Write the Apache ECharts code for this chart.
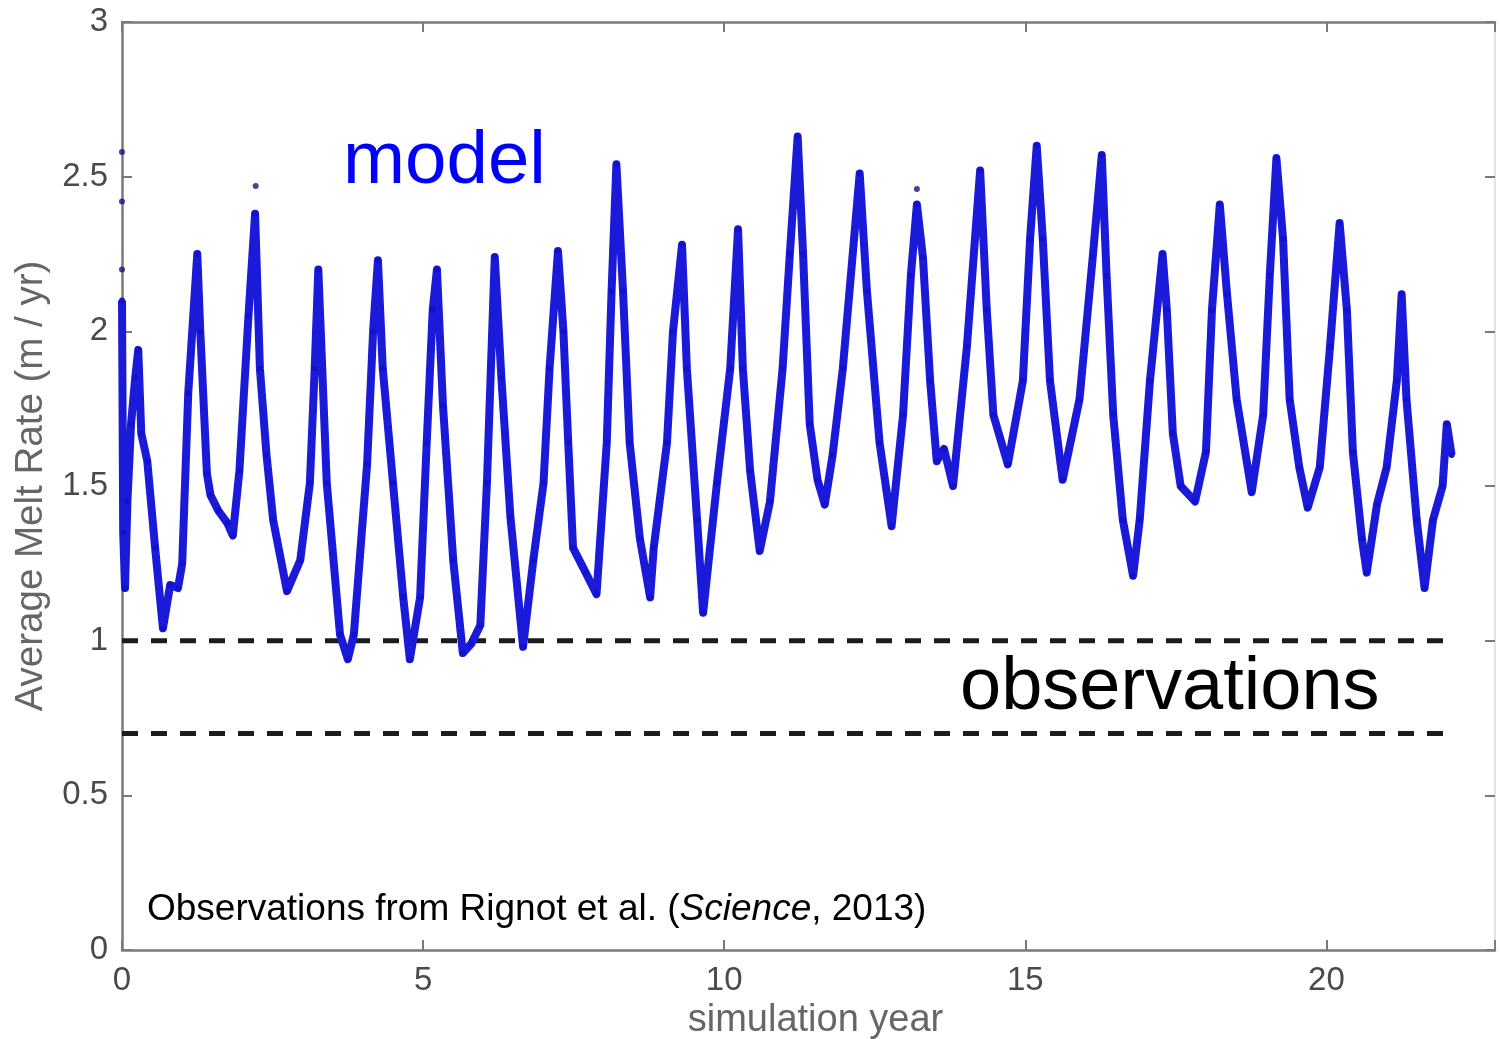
<!DOCTYPE html>
<html><head><meta charset="utf-8">
<script src="https://cdn.jsdelivr.net/npm/echarts@6/dist/echarts.min.js"></script>
<style>html,body{margin:0;padding:0;background:#fff}#c{width:1500px;height:1039px}</style>
</head><body><div id="c"></div>
<script>
// simulation year (x) and average melt rate (m/yr)
const years = [0.00,0.02,0.05,0.09,0.15,0.22,0.27,0.32,0.42,0.55,0.68,0.80,0.93,1.00,1.10,1.25,1.30,1.41,1.47,1.60,1.75,1.84,1.95,2.10,2.21,2.29,2.40,2.51,2.74,2.96,3.12,3.20,3.26,3.40,3.62,3.75,3.85,4.07,4.17,4.25,4.33,4.50,4.67,4.78,4.95,5.06,5.16,5.23,5.33,5.50,5.66,5.80,5.95,6.06,6.19,6.30,6.45,6.66,6.83,7.00,7.10,7.24,7.33,7.41,7.49,7.70,7.88,8.05,8.13,8.21,8.32,8.43,8.60,8.77,8.83,9.05,9.15,9.30,9.38,9.55,9.65,9.88,10.10,10.23,10.31,10.43,10.59,10.76,10.97,11.09,11.22,11.31,11.42,11.55,11.67,11.80,11.97,12.25,12.37,12.58,12.78,12.97,13.10,13.20,13.30,13.42,13.53,13.65,13.80,14.03,14.25,14.36,14.47,14.71,14.96,15.08,15.19,15.29,15.41,15.62,15.90,16.12,16.27,16.35,16.46,16.62,16.79,16.90,17.07,17.28,17.35,17.45,17.58,17.82,18.00,18.10,18.23,18.35,18.51,18.76,18.95,19.06,19.17,19.28,19.39,19.55,19.69,19.89,20.06,20.22,20.34,20.44,20.59,20.67,20.84,21.00,21.17,21.25,21.33,21.50,21.63,21.77,21.93,22.00,22.08];
const meltRate = [2.10,1.35,1.17,1.45,1.70,1.85,1.94,1.67,1.58,1.30,1.04,1.18,1.17,1.25,1.80,2.25,2.00,1.54,1.47,1.42,1.38,1.34,1.55,2.05,2.38,1.88,1.60,1.39,1.16,1.26,1.51,1.88,2.20,1.51,1.02,0.94,1.02,1.57,2.00,2.23,1.88,1.51,1.14,0.94,1.14,1.64,2.07,2.20,1.76,1.26,0.96,0.99,1.05,1.51,2.24,1.85,1.40,0.98,1.26,1.51,1.88,2.26,2.00,1.64,1.30,1.22,1.15,1.64,2.13,2.54,2.13,1.64,1.33,1.14,1.30,1.64,2.00,2.28,1.88,1.39,1.09,1.51,1.88,2.33,1.88,1.55,1.29,1.45,1.88,2.25,2.63,2.25,1.70,1.52,1.44,1.60,1.88,2.51,2.13,1.64,1.37,1.73,2.18,2.41,2.24,1.84,1.58,1.62,1.50,1.95,2.52,2.07,1.73,1.57,1.84,2.30,2.60,2.30,1.84,1.52,1.78,2.24,2.57,2.18,1.73,1.39,1.21,1.39,1.84,2.25,2.07,1.67,1.50,1.45,1.61,2.07,2.41,2.12,1.78,1.48,1.73,2.18,2.56,2.30,1.78,1.56,1.43,1.56,1.95,2.35,2.07,1.61,1.33,1.22,1.44,1.56,1.84,2.12,1.78,1.39,1.17,1.39,1.50,1.70,1.60];
// isolated points above the trace
const strayYears = [0.00,0.00,0.00,2.22,13.20];
const strayRates = [2.58,2.42,2.20,2.47,2.46];
// observation bounds (Rignot et al. 2013)
const obsLevels = [1.0, 0.7];
const obsStart = 0;
const obsEnd = 22.08;
const xTickValues = [0,5,10,15,20];
const yTickValues = [0,0.5,1,1.5,2,2.5,3];

const FONT = '"Liberation Sans", Arial, Helvetica, sans-serif';
const modelData = years.map((x,i)=>[x, meltRate[i]]);
const strayData = strayYears.map((x,i)=>[x, strayRates[i]]);

const chart = echarts.init(document.getElementById('c'), null, {renderer:'canvas'});
const axisGray = '#7a7a7a';
const labelGray = '#4a4a4a';
function xLabel(v){ return xTickValues.indexOf(v) >= 0 ? String(v) : ''; }
function yLabel(v){ return yTickValues.indexOf(Math.round(v*10)/10) >= 0 ? String(v) : ''; }

const obsSeries = obsLevels.map(level => ({
  type:'line', xAxisIndex:0, yAxisIndex:0,
  data:[[obsStart, level],[obsEnd, level]],
  symbol:'none', silent:true, z:3,
  lineStyle:{color:'#1c1c1c', width:5, type:[16,13]}
}));

chart.setOption({
  animation:false,
  backgroundColor:'#fff',
  grid:{left:122, right:5, top:22, bottom:89, containLabel:false, outerBoundsMode:'none'},
  xAxis:[
    {type:'value', position:'bottom', min:0, max:22.8, interval:5,
     axisLine:{show:true, onZero:false, lineStyle:{color:axisGray, width:2.5}},
     axisTick:{show:true, inside:true, length:10, lineStyle:{color:axisGray, width:2}},
     axisLabel:{show:true, formatter:xLabel, color:labelGray, fontSize:33, fontFamily:FONT, margin:14},
     splitLine:{show:false},
     name:'simulation year', nameLocation:'middle', nameGap:52,
     nameTextStyle:{color:'#666', fontSize:38, fontFamily:FONT, padding:[0,0,0,14]}},
    {type:'value', position:'top', min:0, max:22.8, interval:5,
     axisLine:{show:true, onZero:false, lineStyle:{color:axisGray, width:2.5}},
     axisTick:{show:true, inside:true, length:10, lineStyle:{color:axisGray, width:2}},
     axisLabel:{show:false}, splitLine:{show:false}}
  ],
  yAxis:[
    {type:'value', position:'left', min:0, max:3, interval:0.5,
     axisLine:{show:true, onZero:false, lineStyle:{color:axisGray, width:2.5}},
     axisTick:{show:true, inside:true, length:10, lineStyle:{color:axisGray, width:2}},
     axisLabel:{show:true, formatter:yLabel, color:labelGray, fontSize:33, fontFamily:FONT, margin:14},
     splitLine:{show:false},
     name:'Average Melt Rate (m / yr)', nameLocation:'middle', nameGap:63,
     nameTextStyle:{color:'#666', fontSize:38.5, fontFamily:FONT}},
    {type:'value', position:'right', min:0, max:3, interval:0.5,
     axisLine:{show:true, onZero:false, lineStyle:{color:'#e2e2e2', width:2}},
     axisTick:{show:true, inside:true, length:10, lineStyle:{color:axisGray, width:2}},
     axisLabel:{show:false}, splitLine:{show:false}}
  ],
  series:[
    ...obsSeries,
    {type:'line', name:'model', xAxisIndex:0, yAxisIndex:0, data:modelData,
     showSymbol:true, symbol:'circle', symbolSize:6, z:5,
     itemStyle:{color:'#1212cc'},
     lineStyle:{color:'#1a1ad8', width:8, join:'round'}},
    {type:'scatter', xAxisIndex:0, yAxisIndex:0, data:strayData, symbol:'circle', symbolSize:6, z:5,
     itemStyle:{color:'#14148a'}}
  ],
  graphic:[
    {type:'text', left:343, top:125, z:10,
     style:{text:'model', fill:'#0000ff', font:'74.5px '+FONT}},
    {type:'text', left:960, top:652, z:10,
     style:{text:'observations', fill:'#000', font:'74px '+FONT}},
    {type:'text', left:147, top:891, z:10,
     style:{text:'{a|Observations from Rignot et al. (}{i|Science}{a|, 2013)}',
       rich:{a:{fontSize:37, fontFamily:FONT, fill:'#000', color:'#000'},
             i:{fontSize:37, fontFamily:FONT, fontStyle:'italic', fill:'#000', color:'#000'}}}}
  ]
});
</script></body></html>
